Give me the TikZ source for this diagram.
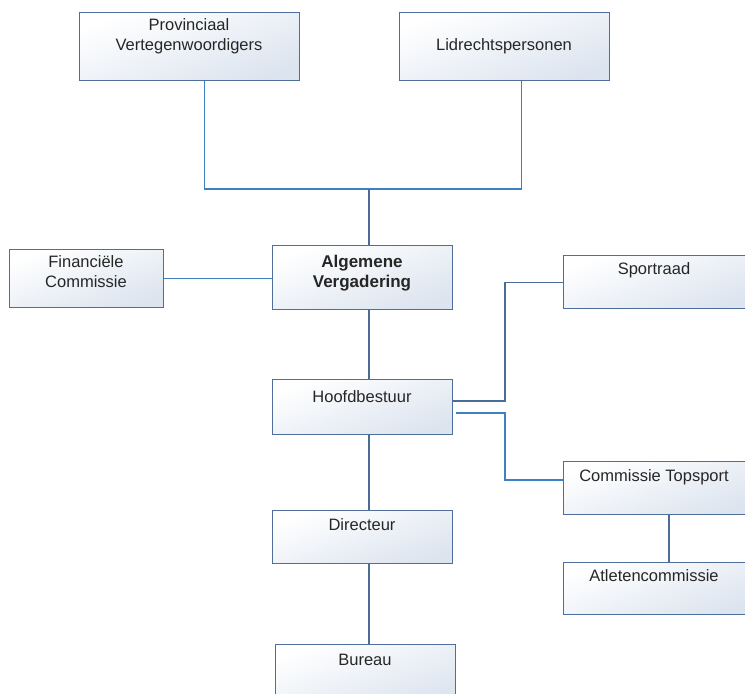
\documentclass[tikz,border=0pt]{standalone}
\usepackage{fontspec}
\setmainfont{Liberation Sans}
\usetikzlibrary{calc}
\definecolor{boxborder}{HTML}{4E6E9C}
\definecolor{boxfill}{HTML}{DCE4EF}
\definecolor{linkblue}{HTML}{3D80C4}
\definecolor{linkdark}{HTML}{4C6C98}
\begin{document}
\begin{tikzpicture}[x=1pt,y=-1pt,
  box/.style={draw=boxborder, line width=1.4pt, rectangle, inner sep=0pt,
    top color=white, bottom color=boxfill, shading angle=20, anchor=north west},
  txt/.style={inner sep=0pt, align=center, text=black!85, font=\fontsize{16.5}{20}\selectfont},
  btxt/.style={inner sep=0pt, align=center, text=black!85, font=\fontsize{17}{20}\selectfont\bfseries},
  linkA/.style={draw=linkblue, line width=1.3pt},
  linkB/.style={draw=linkdark, line width=1.3pt}]
\useasboundingbox (0,0) rectangle (745,694);
\clip (0,0) rectangle (745,694);
\fill[white] (0,0) rectangle (745,694);

% boxes
\node[box, minimum width=220pt, minimum height=68pt] (prov) at (79,12) {};
\node[box, minimum width=210pt, minimum height=68pt] (lid) at (399,12) {};
\node[box, minimum width=180pt, minimum height=64pt] (alg) at (272,245) {};
\node[box, minimum width=154pt, minimum height=58pt] (fin) at (9,249) {};
\node[box, minimum width=180pt, minimum height=55pt] (hoofd) at (272,379) {};
\node[box, minimum width=190pt, minimum height=53pt] (sport) at (563,255) {};
\node[box, minimum width=190pt, minimum height=53pt] (topsp) at (563,461) {};
\node[box, minimum width=190pt, minimum height=52pt] (atlet) at (563,562) {};
\node[box, minimum width=180pt, minimum height=53pt] (dir) at (272,510) {};
\node[box, minimum width=180pt, minimum height=60pt] (bur) at (275,644) {};

% texts
\node[txt] (provt) at (189,36) {Provinciaal\\Vertegenwoordigers};
\node[txt] (lidt) at (504,46) {Lidrechtspersonen};
\node[btxt] (algt) at (362,273) {Algemene\\Vergadering};
\node[txt] (fint) at (86,272) {Financiële\\Commissie};
\node[txt] (hoofdt) at (362,397) {Hoofdbestuur};
\node[txt] (sportt) at (654,270) {Sportraad};
\node[txt] (topspt) at (654,477) {Commissie Topsport};
\node[txt] (atlett) at (654,576) {Atletencommissie};
\node[txt] (dirt) at (362,525) {Directeur};
\node[txt] (burt) at (365,660) {Bureau};

% junction coordinates
\coordinate (top) at (369,189);
\coordinate (spine) at (369,0);
\coordinate (rs) at (505,0);
\coordinate (ctop) at (669,0);
\coordinate (pa) at ($(prov.south west)!0.568!(prov.south east)$);
\coordinate (la) at ($(lid.south west)!0.581!(lid.south east)$);
\coordinate (h1) at ($(hoofd.north east)+(0,22)$);
\coordinate (h2) at ($(hoofd.north east)+(3,34)$);
\coordinate (tj) at ($(topsp.north west)+(0,19)$);

% connectors
\draw[linkA] (pa) |- (top) -| (la);
\draw[linkB] (top) -- (alg.north -| spine);
\draw[linkA] (fin.east) -- (fin.east -| alg.west);
\draw[linkB] (alg.south -| spine) -- (hoofd.north -| spine);
\draw[linkB] (h1) -| (sport.west -| rs) -- (sport.west);
\draw[linkA] (h2) -| (tj -| rs) -- (tj);
\draw[linkB] (topsp.south -| ctop) -- (atlet.north -| ctop);
\draw[linkB] (hoofd.south -| spine) -- (dir.north -| spine);
\draw[linkB] (dir.south -| spine) -- (bur.north -| spine);
\end{tikzpicture}
\end{document}
